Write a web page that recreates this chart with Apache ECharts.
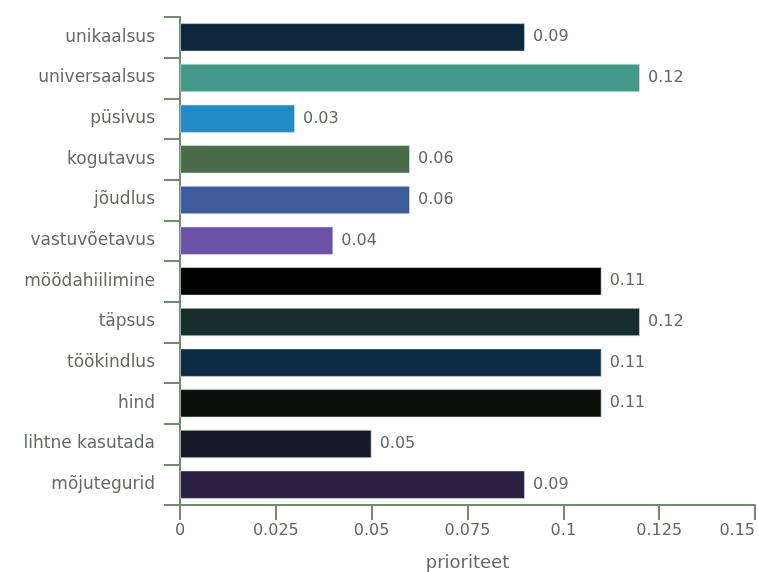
<!DOCTYPE html>
<html>
<head>
<meta charset="utf-8">
<script src="https://cdn.jsdelivr.net/npm/echarts@6/dist/echarts.min.js"></script>
<style>
  html, body { margin: 0; padding: 0; background: #ffffff; overflow: hidden; }
  #chart { width: 759px; height: 572px; }
</style>
</head>
<body>
<div id="chart"></div>
<script>
// Criteria, top to bottom
const categories = [
  'unikaalsus', 'universaalsus', 'püsivus', 'kogutavus', 'jõudlus',
  'vastuvõetavus', 'möödahiilimine', 'täpsus', 'töökindlus', 'hind',
  'lihtne kasutada', 'mõjutegurid'
];
// Priority weight per criterion
const priorities = [0.09, 0.12, 0.03, 0.06, 0.06, 0.04, 0.11, 0.12, 0.11, 0.11, 0.05, 0.09];
// Fill colour per criterion
const barColors = [
  '#0e263b', '#42998a', '#228bc5', '#4a6b4a', '#3f5b99', '#6d53a8',
  '#000000', '#182e2a', '#0b2c42', '#0c0f0a', '#161b2c', '#2a2142'
];
const xTicks = [0, 0.025, 0.05, 0.075, 0.1, 0.125, 0.15];

const textColor = '#5f6b5f';
const axisColor = '#6f8c6f';
const fontFamily = "'DejaVu Sans', sans-serif";

const chart = echarts.init(document.getElementById('chart'));
chart.setOption({
  animation: false,
  grid: { left: 180, right: 4, top: 17, bottom: 67, containLabel: false, outerBoundsMode: 'none' },
  xAxis: {
    type: 'value',
    min: xTicks[0],
    max: xTicks[xTicks.length - 1],
    interval: 0.025,
    name: 'prioriteet',
    nameLocation: 'middle',
    nameGap: 49,
    nameTextStyle: { color: textColor, fontSize: 18, fontFamily, verticalAlign: 'top' },
    axisLine: { show: true, lineStyle: { color: axisColor, width: 2 } },
    axisTick: { show: true, length: 15, lineStyle: { color: axisColor, width: 2 } },
    splitLine: { show: false },
    axisLabel: {
      color: textColor, fontSize: 16, fontFamily, margin: 18,
      alignMaxLabel: 'right',
      formatter: v => String(+v.toFixed(3))
    }
  },
  yAxis: {
    type: 'category',
    data: categories,
    inverse: true,
    axisLine: { show: true, lineStyle: { color: axisColor, width: 2 } },
    axisTick: { show: true, length: 16, lineStyle: { color: axisColor, width: 2 } },
    axisLabel: { color: textColor, fontSize: 17, fontFamily, margin: 25 }
  },
  series: [{
    type: 'bar',
    data: priorities.map((v, i) => ({ value: v, itemStyle: { color: barColors[i] } })),
    barCategoryGap: '30%',
    itemStyle: { borderColor: 'rgba(220,225,230,0.6)', borderWidth: 1 },
    label: {
      show: true, position: 'right', distance: 8,
      color: textColor, fontSize: 16, fontFamily,
      formatter: p => String(p.value)
    }
  }]
});
</script>
</body>
</html>
